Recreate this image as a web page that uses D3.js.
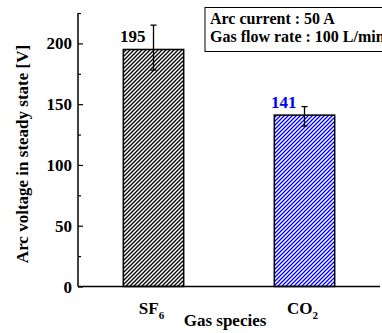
<!DOCTYPE html>
<html lang="en">
<meta charset="utf-8">
<head>
<script src="https://d3js.org/d3.v7.min.js"></script>
<style>
  body { margin: 0; background: #fff; }
  svg text { font-family: "Liberation Serif", "Times New Roman", serif; font-weight: bold; }
</style>
</head>
<body>
<svg id="chart" width="382" height="333"></svg>
<script>
// data
var gases = ["SF6", "CO2"];
var gasMain = ["SF", "CO"];
var gasSub = ["6", "2"];
var voltage = [195, 141];
var errHigh = [215, 148];
var errLow = [178, 132];
var barColors = ["#000000", "#0000ff"];
var labelColors = ["#000000", "#0000ff"];
var yTicks = [0, 50, 100, 150, 200];
var legendLines = ["Arc current : 50 A", "Gas flow rate : 100 L/min"];

var svg = d3.select("#chart");
var plotLeft = 78, plotRight = 380, plotTop = 13, plotBottom = 286.5;

var x = d3.scaleBand().domain(gases).range([plotLeft, plotRight])
  .paddingInner(0.6).paddingOuter(0.3);
var y = d3.scaleLinear().domain([0, 225]).range([plotBottom, plotTop]);

// hatch patterns
var defs = svg.append("defs");
barColors.forEach(function(c, i) {
  var p = defs.append("pattern")
    .attr("id", "hatch" + i)
    .attr("patternUnits", "userSpaceOnUse")
    .attr("width", 4).attr("height", 4);
  p.append("rect").attr("width", 4).attr("height", 4).attr("fill", "#fff");
  p.append("path")
    .attr("d", "M-1,1 l2,-2 M0,4 l4,-4 M3,5 l2,-2")
    .attr("stroke", c).attr("stroke-width", 1.3);
});

// bars
svg.selectAll("rect.bar").data(gases).enter().append("rect")
  .attr("class", "bar")
  .attr("x", function(d) { return x(d); })
  .attr("width", x.bandwidth())
  .attr("y", function(d, i) { return y(voltage[i]); })
  .attr("height", function(d, i) { return y(0) - y(voltage[i]); })
  .attr("fill", function(d, i) { return "url(#hatch" + i + ")"; })
  .attr("stroke", "#000").attr("stroke-width", 1.5);

// error bars
var eb = svg.selectAll("g.err").data(gases).enter().append("g")
  .attr("class", "err")
  .attr("stroke", "#000").attr("stroke-width", 1.3);
eb.append("line")
  .attr("x1", function(d) { return x(d) + x.bandwidth() / 2; })
  .attr("x2", function(d) { return x(d) + x.bandwidth() / 2; })
  .attr("y1", function(d, i) { return y(errHigh[i]); })
  .attr("y2", function(d, i) { return y(errLow[i]); });
[errHigh, errLow].forEach(function(arr) {
  eb.append("line")
    .attr("x1", function(d) { return x(d) + x.bandwidth() / 2 - 3; })
    .attr("x2", function(d) { return x(d) + x.bandwidth() / 2 + 3; })
    .attr("y1", function(d, i) { return y(arr[i]); })
    .attr("y2", function(d, i) { return y(arr[i]); });
});

// value labels
svg.selectAll("text.val").data(gases).enter().append("text")
  .attr("class", "val")
  .attr("x", function(d) { return x(d) + x.bandwidth() / 2 - 8; })
  .attr("y", function(d, i) { return y(voltage[i]) - 7; })
  .attr("text-anchor", "end")
  .attr("font-size", 17)
  .attr("fill", function(d, i) { return labelColors[i]; })
  .text(function(d, i) { return voltage[i]; });

// y axis
var yAxis = d3.axisRight(y).tickValues(yTicks).tickSize(5).tickFormat("");
var ga = svg.append("g").attr("transform", "translate(" + plotLeft + ",0)").call(yAxis);
ga.select(".domain").remove();
ga.selectAll("line").attr("stroke", "#000").attr("stroke-width", 1.2);
var yMinor = d3.axisRight(y).tickValues([25, 75, 125, 175, 225]).tickSize(3).tickFormat("");
var gm = svg.append("g").attr("transform", "translate(" + plotLeft + ",0)").call(yMinor);
gm.select(".domain").remove();
gm.selectAll("line").attr("stroke", "#000").attr("stroke-width", 1.2);

svg.selectAll("text.ytick").data(yTicks).enter().append("text")
  .attr("class", "ytick")
  .attr("x", plotLeft - 6)
  .attr("y", function(d) { return y(d) + 6; })
  .attr("text-anchor", "end")
  .attr("font-size", 17)
  .text(function(d) { return d; });

svg.append("line").attr("x1", plotLeft).attr("x2", plotLeft)
  .attr("y1", plotTop).attr("y2", plotBottom)
  .attr("stroke", "#000").attr("stroke-width", 1.5);
svg.append("line").attr("x1", plotLeft).attr("x2", plotRight)
  .attr("y1", plotBottom).attr("y2", plotBottom)
  .attr("stroke", "#000").attr("stroke-width", 1.5);

// x tick labels with subscripts
var xl = svg.selectAll("text.xtick").data(gases).enter().append("text")
  .attr("class", "xtick")
  .attr("x", function(d) { return x(d) + x.bandwidth() / 2 - 2; })
  .attr("y", 314)
  .attr("text-anchor", "middle")
  .attr("font-size", 17);
xl.append("tspan").text(function(d, i) { return gasMain[i]; });
xl.append("tspan").attr("font-size", 11).attr("dy", 5)
  .text(function(d, i) { return gasSub[i]; });

// axis titles
svg.append("text")
  .attr("x", 225).attr("y", 326)
  .attr("text-anchor", "middle")
  .attr("font-size", 17)
  .text("Gas species");
svg.append("text")
  .attr("transform", "translate(28,154) rotate(-90)")
  .attr("text-anchor", "middle")
  .attr("font-size", 17)
  .text("Arc voltage in steady state [V]");

// legend box
svg.append("rect")
  .attr("x", 205).attr("y", 7.5)
  .attr("width", 200).attr("height", 44)
  .attr("fill", "#fff").attr("stroke", "#000").attr("stroke-width", 1);
svg.selectAll("text.leg").data(legendLines).enter().append("text")
  .attr("class", "leg")
  .attr("x", 210)
  .attr("y", function(d, i) { return 23.5 + i * 18.5; })
  .attr("font-size", 16)
  .text(function(d) { return d; });
</script>
</body>
</html>
